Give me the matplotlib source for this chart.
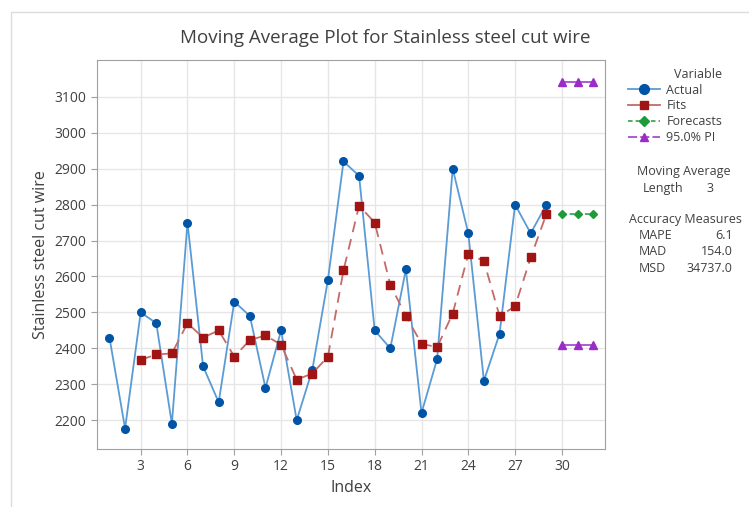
import matplotlib.pyplot as plt
from matplotlib.lines import Line2D
from matplotlib.patches import Rectangle

plt.rcParams["font.family"] = ["Open Sans", "DejaVu Sans"]

# data
index = list(range(1, 30))
actual = [2430, 2177, 2500, 2470, 2190, 2750, 2350, 2250, 2530, 2490,
          2290, 2450, 2200, 2340, 2590, 2920, 2880, 2450, 2400, 2620,
          2220, 2370, 2900, 2720, 2310, 2440, 2800, 2720, 2800]
fit_index = list(range(3, 30))
fits = [2368, 2383, 2386, 2470, 2430, 2450, 2377, 2423, 2436, 2410,
        2313, 2330, 2377, 2617, 2797, 2750, 2577, 2490, 2413, 2403,
        2497, 2663, 2643, 2490, 2517, 2653, 2773]
fc_index = [30, 31, 32]
forecasts = [2773, 2773, 2773]
pi_upper = [3140, 3140, 3140]
pi_lower = [2410, 2410, 2410]

c_act_line = "#5b9bd5"
c_act_mark = "#0054a6"
c_fit_line = "#c46a6a"
c_fit_mark = "#a01414"
c_fc = "#1f9a3a"
c_pi = "#9a2cc8"
txt = "#404040"

fig = plt.figure(figsize=(7.49, 5.07), dpi=100)
# thin outer frame (only left/top visible in the crop)
fig.add_artist(Rectangle((11 / 749, -0.1), 1.2, 1 - 12 / 507 + 0.1, transform=fig.transFigure,
                         fill=False, ec="#dcdcdc", lw=1))
ax = fig.add_axes([0.1295, 0.1144, 0.678, 0.767])

ax.plot(index, actual, color=c_act_line, lw=1.3, marker="o", ms=5.5,
        mfc=c_act_mark, mec=c_act_mark, zorder=3)
ax.plot(fit_index, fits, color=c_fit_line, lw=1.3, ls=(0, (6, 4)), marker="s", ms=6,
        mfc=c_fit_mark, mec=c_fit_mark, zorder=4)
ax.plot(fc_index, forecasts, color=c_fc, lw=1.1, ls=(0, (3, 2)), marker="D", ms=4,
        mfc=c_fc, mec=c_fc, zorder=4)
ax.plot(fc_index, pi_upper, color=c_pi, lw=1.1, marker="^", ms=6, mfc=c_pi, mec=c_pi, zorder=4)
ax.plot(fc_index, pi_lower, color=c_pi, lw=1.1, marker="^", ms=6, mfc=c_pi, mec=c_pi, zorder=4)

ax.set_xlim(0.2, 32.75)
ax.set_ylim(2120, 3202)
ax.set_xticks(range(3, 31, 3))
ax.set_yticks(range(2200, 3101, 100))
ax.grid(True, color="#e6e6e6", lw=1)
ax.set_axisbelow(True)
for s in ax.spines.values():
    s.set_color("#a0a0a0")
ax.tick_params(colors="#a0a0a0", labelcolor=txt, labelsize=10, length=4)

ax.set_title("Moving Average Plot for Stainless steel cut wire", fontsize=13.5,
             color=txt, pad=12, x=0.567)
ax.set_xlabel("Index", fontsize=11.5, color=txt)
ax.set_ylabel("Stainless steel cut wire", fontsize=11.5, color=txt, labelpad=4)

handles = [
    Line2D([], [], color=c_act_line, lw=1.3, marker="o", ms=7, mfc=c_act_mark, mec=c_act_mark),
    Line2D([], [], color=c_fit_line, lw=1.3, marker="s", ms=6, mfc=c_fit_mark, mec=c_fit_mark),
    Line2D([], [], color=c_fc, lw=1.1, ls=(0, (3, 2)), marker="D", ms=5, mfc=c_fc, mec=c_fc),
    Line2D([], [], color=c_pi, lw=1.1, ls=(0, (6, 2)), marker="^", ms=6, mfc=c_pi, mec=c_pi),
]
leg = fig.legend(handles, ["Actual", "Fits", "Forecasts", "95.0% PI"], title="Variable",
                 loc="upper left", bbox_to_anchor=(0.838, 0.866), frameon=False,
                 fontsize=9, title_fontsize=9, handlelength=2.6, handletextpad=0.5,
                 labelspacing=0.22, borderaxespad=0, borderpad=0)
leg._legend_box.align = "right"
for t in leg.get_texts():
    t.set_color(txt)
leg.get_title().set_color(txt)

fig.text(0.913, 0.655, "Moving Average", fontsize=9, color=txt, ha="center")
fig.text(0.885, 0.622, "Length", fontsize=9, color=txt, ha="center")
fig.text(0.948, 0.622, "3", fontsize=9, color=txt, ha="center")
fig.text(0.915, 0.561, "Accuracy Measures", fontsize=9, color=txt, ha="center")
rows = [("MAPE", "6.1"), ("MAD", "154.0"), ("MSD", "34737.0")]
for i, (k, v) in enumerate(rows):
    y = 0.529 - i * 0.0325
    fig.text(0.853, y, k, fontsize=9, color=txt, ha="left")
    fig.text(0.978, y, v, fontsize=9, color=txt, ha="right")

fig.savefig("out.png", dpi=100)
